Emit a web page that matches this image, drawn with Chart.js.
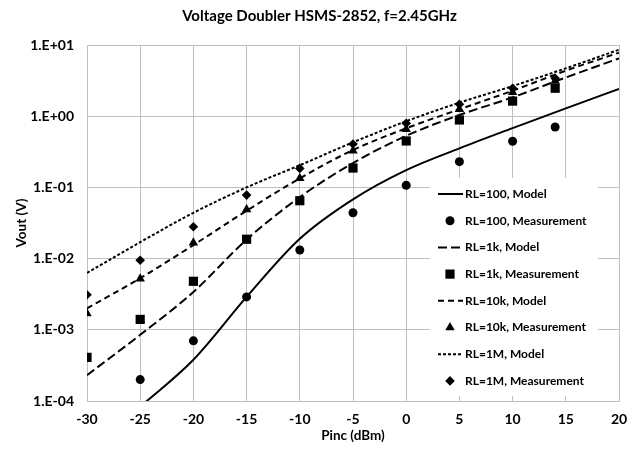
<!DOCTYPE html>
<html>
<head>
<meta charset="utf-8">
<script src="https://cdn.jsdelivr.net/npm/chart.js@4.4.1/dist/chart.umd.min.js"></script>
<style>
  body { margin: 0; background: #fff; }
  canvas { display: block; }
</style>
</head>
<body>
<canvas id="vout-chart" width="639" height="452"></canvas>
<script>
// Pinc values (dBm) for the model curves and the measured points
const pincModel = [-30, -25, -20, -15, -10, -5, 0, 5, 10, 15, 20];
const pincMeas = [-30, -25, -20, -15, -10, -5, 0, 5, 10, 14];

// model curves, Vout in V
const rl100Model = [null, 8.3e-5, 3.8e-4, 2.9e-3, 0.019, 0.068, 0.175, 0.354, 0.68, 1.29, 2.41];
const rl1kModel = [2.3e-4, 8.5e-4, 3.4e-3, 0.0185, 0.073, 0.22, 0.53, 1.04, 1.84, 3.5, 6.5];
const rl10kModel = [2.0e-3, 5.3e-3, 0.0155, 0.047, 0.134, 0.335, 0.676, 1.25, 2.28, 4.36, 7.8];
const rl1MModel = [6.3e-3, 0.017, 0.044, 0.1, 0.205, 0.43, 0.85, 1.55, 2.65, 4.7, 8.6];

// measurements, Vout in V
const rl100Meas = [null, 2.0e-4, 7.0e-4, 2.9e-3, 0.0132, 0.044, 0.107, 0.23, 0.444, 0.705];
const rl1kMeas = [4.1e-4, 1.4e-3, 4.8e-3, 0.0187, 0.065, 0.187, 0.449, 0.885, 1.63, 2.47];
const rl10kMeas = [1.7e-3, 5.2e-3, 0.0167, 0.049, 0.134, 0.327, 0.655, 1.25, 2.17, 3.12];
const rl1MMeas = [3.1e-3, 9.5e-3, 0.028, 0.078, 0.185, 0.407, 0.795, 1.47, 2.47, 3.4];

// y axis ticks
const yTicks = [1e-4, 1e-3, 1e-2, 1e-1, 1, 10];
const yTickLabels = ['1.E-04', '1.E-03', '1.E-02', '1.E-01', '1.E+00', '1.E+01'];

const chartTitle = 'Voltage Doubler HSMS-2852, f=2.45GHz';
const font = 'Lato';
const gridColor = '#bfbfbf';

function pts(xs, ys) {
  return xs.map((x, i) => ({ x: x, y: ys[i] }));
}

function model(label, ys, dash) {
  return {
    label: label,
    data: pts(pincModel, ys),
    borderColor: '#000',
    borderWidth: 2,
    borderDash: dash,
    pointRadius: 0,
    cubicInterpolationMode: 'monotone',
    spanGaps: true
  };
}

function meas(label, ys, style, r) {
  return {
    label: label,
    data: pts(pincMeas, ys),
    showLine: false,
    pointStyle: style,
    pointRadius: r,
    pointBackgroundColor: '#000',
    pointBorderWidth: 0,
    borderColor: '#000'
  };
}

// title centred on the whole canvas, legend drawn inside the plot on a white box
const extras = {
  id: 'extras',
  afterDraw(chart) {
    const c = chart.ctx;
    const area = chart.chartArea;
    c.save();
    c.fillStyle = '#000';
    c.font = 'bold 15px ' + font;
    c.textAlign = 'center';
    c.textBaseline = 'middle';
    c.fillText(chartTitle, chart.width / 2, 16);

    const left = area.right - 189;
    const top = area.top + 133;
    c.fillStyle = '#fff';
    c.fillRect(left, top, 168, 218);
    chart.data.datasets.forEach((ds, i) => {
      const y = top + 16 + i * 26.7;
      c.strokeStyle = '#000';
      c.fillStyle = '#000';
      if (ds.showLine === false) {
        Chart.helpers.drawPoint(c, { pointStyle: ds.pointStyle, radius: ds.pointRadius, borderWidth: 0 }, left + 20, y);
      } else {
        c.lineWidth = ds.borderWidth;
        c.setLineDash(ds.borderDash || []);
        c.beginPath();
        c.moveTo(left + 8, y);
        c.lineTo(left + 33, y);
        c.stroke();
        c.setLineDash([]);
      }
      c.font = 'bold 12px ' + font;
      c.textBaseline = 'middle';
      c.textAlign = 'left';
      c.fillText(ds.label, left + 35, y);
    });
    c.restore();
  }
};

const ctx = document.querySelector('#vout-chart');

const config = {
  type: 'line',
  data: {
    datasets: [
      model('RL=100, Model', rl100Model, []),
      meas('RL=100, Measurement', rl100Meas, 'circle', 4.5),
      model('RL=1k, Model', rl1kModel, [9, 4]),
      meas('RL=1k, Measurement', rl1kMeas, 'rect', 6.5),
      model('RL=10k, Model', rl10kModel, [6, 4]),
      meas('RL=10k, Measurement', rl10kMeas, 'triangle', 5.5),
      model('RL=1M, Model', rl1MModel, [3, 2]),
      meas('RL=1M, Measurement', rl1MMeas, 'rectRot', 4.8)
    ]
  },
  options: {
    responsive: false,
    animation: false,
    layout: { padding: { left: 0, right: 20, top: 45, bottom: 0 } },
    plugins: {
      legend: { display: false },
      tooltip: { enabled: false },
      title: { display: false }
    },
    scales: {
      x: {
        type: 'linear',
        min: -30,
        max: 20,
        ticks: {
          stepSize: 5,
          color: '#000',
          padding: 10,
          font: { family: font, size: 14, weight: 'bold' }
        },
        grid: { color: gridColor, drawTicks: false },
        border: { color: gridColor },
        title: {
          display: true,
          text: 'Pinc (dBm)',
          color: '#000',
          font: { family: font, size: 13.5, weight: 'bold' },
          padding: { top: 0, bottom: 8 }
        },
        afterFit(scale) { scale.height = 51; }
      },
      y: {
        type: 'logarithmic',
        min: 1e-4,
        max: 10,
        afterBuildTicks(scale) {
          scale.ticks = yTicks.map(v => ({ value: v }));
        },
        ticks: {
          color: '#000',
          padding: 13,
          font: { family: font, size: 14, weight: 'bold' },
          callback: function(v) {
            const i = yTicks.findIndex(t => Math.abs(Math.log10(t) - Math.log10(v)) < 1e-6);
            return i >= 0 ? yTickLabels[i] : '';
          }
        },
        grid: { color: gridColor, drawTicks: false },
        border: { color: gridColor },
        title: {
          display: true,
          text: 'Vout (V)',
          color: '#000',
          font: { family: font, size: 13.5, weight: 'bold' },
          padding: { top: 14, bottom: 0 }
        },
        afterFit(scale) { scale.width = 87; }
      }
    }
  },
  plugins: [extras]
};

new Chart(ctx, config);
</script>
</body>
</html>
